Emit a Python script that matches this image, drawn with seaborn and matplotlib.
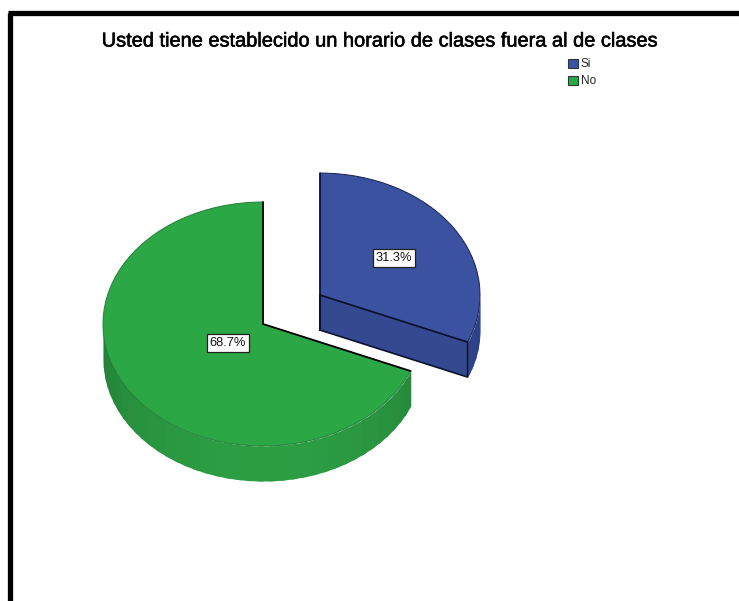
import matplotlib
matplotlib.use('Agg')
import matplotlib.pyplot as plt
import matplotlib.patheffects as pe
import numpy as np
import seaborn as sns

# data
categories = ['Si', 'No']
shares = [31.3, 68.7]
pct_labels = ['31.3%', '68.7%']
title = 'Usted tiene establecido un horario de clases fuera al de clases'

sns.set_theme(style='white')
plt.rcParams['font.family'] = ['Liberation Sans', 'DejaVu Sans']

top_colors = sns.color_palette(['#3a52a0', '#2ca745'])
edge_colors = ['#17224f', '#24803a']

# one data unit = the pie radius, squashed so it looks tilted
W, H = 739, 601
RX, RY = 160, 122
DEPTH = 35 / RY


def ux(px):
    return px / RX


def uy(py):
    return (H - py) / RY


fig = plt.figure(figsize=(W / 100, H / 100), dpi=100, facecolor='white')
ax = fig.add_axes([0, 0, 1, 1])

wedges, _, autotexts = ax.pie(
    shares, colors=top_colors, explode=[0.428, 0], startangle=90,
    counterclock=False, radius=1, center=(ux(263), uy(324)), frame=True,
    autopct='%.1f%%', pctdistance=0.555,
    wedgeprops={'zorder': 5, 'linewidth': 0.7},
)
ax.set_aspect('auto')
ax.set_xlim(0, W / RX)
ax.set_ylim(0, H / RY)
ax.set_axis_off()


def side_color(deg, dark, light):
    # lighter towards the bottom of the pie, darker at the edges
    t = np.clip(abs(np.sin(np.radians(deg))), 0, 1)
    return tuple(np.array(dark) + (np.array(light) - np.array(dark)) * t)


side_dark = [(0.17, 0.25, 0.52), (0.13, 0.49, 0.21)]
side_light = [(0.20, 0.29, 0.58), (0.17, 0.62, 0.26)]

# extruded outer wall, in narrow overlapping bands so no seams show
for i, w in enumerate(wedges):
    w.set_edgecolor(edge_colors[i])
    cx, cy = w.center
    a0, a1 = max(w.theta1, -180), min(w.theta2, 0)
    steps = np.append(np.arange(a0, a1, 4.0), a1)
    for s0, s1 in zip(steps[:-1], steps[1:]):
        th = np.radians(np.linspace(s0, min(s1 + 2, a1), 8))
        x = cx + np.cos(th)
        y = cy + np.sin(th)
        c = side_color((s0 + s1) / 2, side_dark[i], side_light[i])
        ax.fill_between(x, y, y - DEPTH, color=c, lw=0, zorder=2)

# blue slice: visible cut face and dark outlines
bw = wedges[0]
cx, cy = bw.center
ex = cx + np.cos(np.radians(bw.theta1))
ey = cy + np.sin(np.radians(bw.theta1))
ax.fill([cx, ex, ex, cx], [cy, ey, ey - DEPTH, cy - DEPTH],
        color='#34498f', zorder=4, lw=0)
ax.plot([cx, cx, ex, ex, cx, cx], [cy + 1, cy - DEPTH, ey - DEPTH, ey, cy, cy - DEPTH],
        color='#0b1230', lw=1.2, zorder=6, solid_joinstyle='miter')

# green slice: black radial lines
gw = wedges[1]
cx, cy = gw.center
ex = cx + np.cos(np.radians(gw.theta2))
ey = cy + np.sin(np.radians(gw.theta2))
ax.plot([cx, cx, ex], [cy + 1, cy, ey], color='black', lw=1.3, zorder=6,
        solid_joinstyle='miter')

# percentage boxes
label_pos = [(394, 258), (228, 343)]
for t, txt, pos in zip(autotexts, pct_labels, label_pos):
    t.set_text(txt)
    t.set_position((ux(pos[0]), uy(pos[1])))
    t.set_fontsize(9.3)
    t.set_color('#111111')
    t.set_zorder(8)
    t.set_bbox({'boxstyle': 'square,pad=0.2', 'fc': 'white', 'ec': '#222222', 'lw': 0.9})

ax.text(ux(380), uy(41), title, ha='center', va='center', fontsize=14.4, color='black',
        path_effects=[pe.withStroke(linewidth=0.4, foreground='black')], zorder=8)

leg = ax.legend(wedges, categories, loc='upper left', bbox_to_anchor=(566 / W, 1 - 56 / H),
                frameon=False, fontsize=8.5, handlelength=0.85, handleheight=0.85,
                handletextpad=0.2, labelspacing=0.42, borderpad=0.2, borderaxespad=0)
for h in leg.legend_handles:
    h.set_edgecolor('#333333')
    h.set_linewidth(0.8)

# black frame on the top and left only
frame = dict(color='black', lw=3.8, solid_capstyle='butt', transform=fig.transFigure)
fig.add_artist(plt.Line2D([9.5 / W, 9.5 / W], [0, 1 - 12.5 / H], **frame))
fig.add_artist(plt.Line2D([7.5 / W, 1], [1 - 12.5 / H, 1 - 12.5 / H], **frame))

fig.savefig('out.png', dpi=100)
